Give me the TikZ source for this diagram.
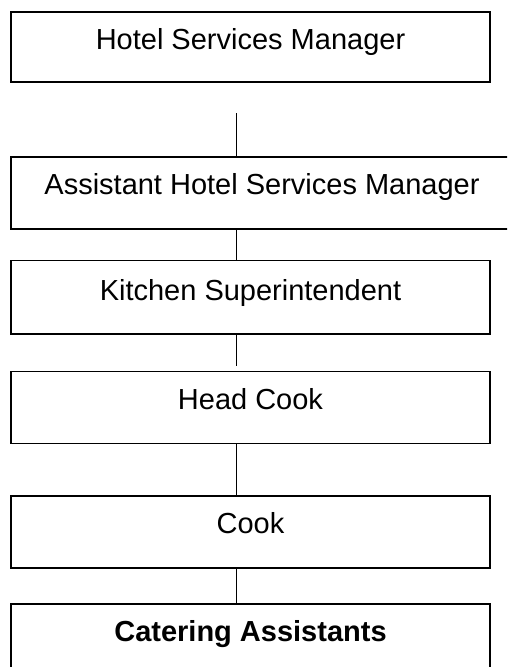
\documentclass[tikz,border=0pt]{standalone}
\usepackage{fontspec}
\setmainfont{Liberation Sans}
\begin{document}
\begin{tikzpicture}[x=1pt,y=-1pt,
  box/.style={draw=black,line width=1.3pt,inner sep=0pt},
  lbl/.style={anchor=base,inner sep=0pt,font=\fontsize{29}{34}\selectfont},
  conn/.style={draw=black,line width=1.3pt}]
\clip (0,0) rectangle (507,667);
\useasboundingbox (0,0) rectangle (507,667);
\node[box,minimum width=479pt,minimum height=70pt] (b1) at (250.5,47) {};
\node[box,minimum width=502pt,minimum height=72pt] (b2) at (262,193) {};
\node[box,minimum width=479pt,minimum height=73.5pt] (b3) at (250.5,297.25) {};
\node[box,minimum width=479pt,minimum height=71.5pt] (b4) at (250.5,407.5) {};
\node[box,minimum width=479pt,minimum height=72pt] (b5) at (250.5,532) {};
\node[box,minimum width=479pt,minimum height=72pt] (b6) at (250.5,640) {};
\node[lbl] (t1) at ([yshift=-38pt]b1.north) {Hotel Services Manager};
\node[lbl] (t2) at ([yshift=-38pt]b2.north) {Assistant Hotel Services Manager};
\node[lbl] (t3) at ([yshift=-41pt]b3.north) {Kitchen Superintendent};
\node[lbl] (t4) at ([yshift=-38pt]b4.north) {Head Cook};
\node[lbl] (t5) at ([yshift=-38pt]b5.north) {Cook};
\node[lbl,font=\fontsize{29}{34}\selectfont\bfseries] (t6) at ([yshift=-38pt]b6.north) {Catering Assistants};
\coordinate (c0) at (236.3,113);
\coordinate (c3) at (236.3,366);
\draw[conn] (c0) -- (c0 |- b2.north);
\draw[conn] (b2.south -| c0) -- (b3.north -| c0);
\draw[conn] (b3.south -| c0) -- (c3);
\draw[conn] (b4.south -| c0) -- (b5.north -| c0);
\draw[conn] (b5.south -| c0) -- (b6.north -| c0);
\end{tikzpicture}
\end{document}
